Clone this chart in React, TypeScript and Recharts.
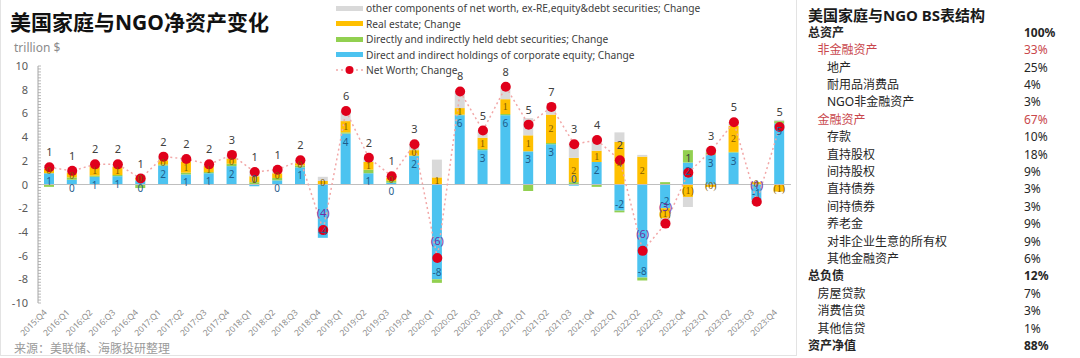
import React from 'react'
import { ComposedChart, Bar, Line, XAxis, YAxis, ReferenceLine, LabelList } from 'recharts'

// quarterly change, trillion $
const quarters = [
  '2015:Q4', '2016:Q1', '2016:Q2', '2016:Q3', '2016:Q4', '2017:Q1', '2017:Q2', '2017:Q3', '2017:Q4',
  '2018:Q1', '2018:Q2', '2018:Q3', '2018:Q4', '2019:Q1', '2019:Q2', '2019:Q3', '2019:Q4',
  '2020:Q1', '2020:Q2', '2020:Q3', '2020:Q4', '2021:Q1', '2021:Q2', '2021:Q3', '2021:Q4',
  '2022:Q1', '2022:Q2', '2022:Q3', '2022:Q4', '2023:Q1', '2023:Q2', '2023:Q3', '2023:Q4',
]
const equity = [
  0.95, 0.4, 0.65, 0.7, 0.35, 1.6, 0.85, 0.95, 1.55, -0.15, 0.35, 1.45, -4.5, 4.3, 0.95, 0.15, 2.4,
  -8.0, 5.85, 2.9, 5.85, 2.8, 3.4, -0.1, 1.9, -2.2, -7.85, -2.0, 1.85, 2.5, 2.7, -1.3, 5.15,
]
const debt = [
  -0.2, 0.2, 0.1, 0.1, -0.3, 0.1, 0.15, 0.1, 0.2, 0.2, 0.2, 0.15, 0.0, 0.1, 0.3, 0.15, 0.05,
  -0.3, 0.05, 0.1, 0.1, -0.55, 0.1, 0.2, -0.2, -0.15, -0.25, 0.2, 1.05, 0.2, 0.05, 0.05, 0.2,
]
const realEstate = [
  0.4, 0.4, 0.8, 0.7, 0.25, 0.35, 0.95, 0.5, 0.45, 0.5, 0.4, 0.2, 0.3, 0.95, 0.65, 0.3, 0.45,
  0.6, 0.55, 0.95, 1.25, 1.35, 2.4, 2.05, 0.95, 3.6, 2.35, -0.85, -1.05, -0.2, 2.2, 0.15, -0.6,
]
const other = [
  0.3, 0.15, 0.15, 0.2, 0.2, 0.3, 0.2, 0.15, 0.3, 0.5, 0.3, 0.25, 0.35, 0.85, 0.35, 0.1, 0.5,
  1.5, 1.4, 0.6, 1.05, 1.45, 0.65, 1.25, 1.1, 0.8, 0.15, -0.65, -0.85, 0.35, 0.3, -0.35, 0.1,
]
const netWorth = [
  1.45, 1.15, 1.7, 1.7, 0.5, 2.35, 2.15, 1.7, 2.5, 1.05, 1.25, 2.05, -3.85, 6.2, 2.25, 0.7, 3.4,
  -6.2, 7.85, 4.55, 8.25, 5.05, 6.55, 3.4, 3.75, 2.05, -5.6, -3.3, 1.0, 2.85, 5.25, -1.45, 4.85,
]
const majorTicks = [10, 8, 6, 4, 2, 0, -2, -4, -6, -8, -10]

const legendItems = [
  { label: 'other components of net worth, ex-RE,equity&debt securities; Change', color: '#d9d9d9' },
  { label: 'Real estate; Change', color: '#ffc000' },
  { label: 'Directly and indirectly held debt securities; Change', color: '#92d050' },
  { label: 'Direct and indirect holdings of corporate equity; Change', color: '#4cc3f0' },
]

// right-hand table: [label, value, indent level, style]
const tableRows: [string, string, number, string][] = [
  ['总资产', '100%', 0, 'bold'],
  ['非金融资产', '33%', 1, 'red'],
  ['地产', '25%', 2, ''],
  ['耐用品消费品', '4%', 2, ''],
  ['NGO非金融资产', '3%', 2, ''],
  ['金融资产', '67%', 1, 'red'],
  ['存款', '10%', 2, ''],
  ['直持股权', '18%', 2, ''],
  ['间持股权', '9%', 2, ''],
  ['直持债券', '3%', 2, ''],
  ['间持债券', '3%', 2, ''],
  ['养老金', '9%', 2, ''],
  ['对非企业生意的所有权', '9%', 2, ''],
  ['其他金融资产', '6%', 2, ''],
  ['总负债', '12%', 0, 'bold'],
  ['房屋贷款', '7%', 1, ''],
  ['消费信贷', '3%', 1, ''],
  ['其他信贷', '1%', 1, ''],
  ['资产净值', '88%', 0, 'bold'],
]

const FONT = '"Noto Sans", "Noto Sans CJK SC", sans-serif'
const AXIS_X = 38

const data = quarters.map((q, i) => ({
  q,
  eq: equity[i],
  debt: debt[i],
  re: realEstate[i],
  other: other[i],
  nw: netWorth[i],
}))

const minorTicks: number[] = []
for (let v = -10; v <= 10; v += 0.25) minorTicks.push(v)

const paren = (v: number) => (v < 0 ? `(${Math.round(-v)})` : String(Math.round(v)))

function YTick(props: any) {
  const { y, payload } = props
  const v = payload.value as number
  const major = majorTicks.includes(v)
  return (
    <g>
      <line x1={AXIS_X} x2={AXIS_X + 3} y1={y} y2={y} stroke="#a6a6a6" strokeWidth={0.8} />
      {major && (
        <text x={28} y={y + 4} textAnchor="end" fontSize={11} fill="#595959" fontFamily={FONT}>
          {v}
        </text>
      )}
    </g>
  )
}

function XTick(props: any) {
  const { x, y, payload } = props
  return (
    <g transform={`translate(${x - 2},${y + 10})`}>
      <text transform="rotate(-45)" textAnchor="end" fontSize={8.5} fill="#8c8c8c" fontFamily={FONT}>
        {payload.value}
      </text>
    </g>
  )
}

function NwLabel(props: any) {
  const { x, y, value } = props
  const neg = value < 0
  return (
    <text x={x} y={y - (neg ? 13 : 11)} textAnchor="middle" fontSize={11} fill={neg ? '#7030a0' : '#404040'} fontFamily={FONT}>
      {paren(value)}
    </text>
  )
}

// equity labels sit at the inside end of the blue segment
function EqLabel(props: any) {
  const { x, y, width, height, value } = props
  const top = Math.min(y, y + height)
  const bottom = Math.max(y, y + height)
  const ty = value >= 0 ? top + 12 : bottom - 3
  return (
    <text x={x + width / 2} y={ty} textAnchor="middle" fontSize={10} fill="#1f5d8c" fontFamily={FONT}>
      {String(Math.round(value) || 0)}
    </text>
  )
}

function Legend() {
  return (
    <div style={{ position: 'absolute', left: 336, top: 0, fontFamily: FONT, fontSize: 10.2, color: '#404040' }}>
      {legendItems.map((it, i) => (
        <div key={it.label} style={{ position: 'absolute', top: i * 15.5, height: 16, display: 'flex', alignItems: 'center', whiteSpace: 'nowrap' }}>
          <span style={{ display: 'inline-block', width: 27, height: 5, background: it.color, marginRight: 3 }} />
          {it.label}
        </div>
      ))}
      <div style={{ position: 'absolute', top: 62, height: 16, display: 'flex', alignItems: 'center', whiteSpace: 'nowrap' }}>
        <svg width={27} height={10} style={{ marginRight: 3 }}>
          <line x1={0} x2={27} y1={5} y2={5} stroke="#f2a7a7" strokeWidth={1.5} strokeDasharray="2 3" />
          <circle cx={13.5} cy={5} r={4} fill="#e0001b" />
        </svg>
        Net Worth; Change
      </div>
    </div>
  )
}

function Table() {
  return (
    <div style={{ position: 'absolute', left: 797, top: 0, width: 283, height: 358, fontFamily: FONT }}>
      <div style={{ position: 'absolute', left: 11, top: 4, fontSize: 15, fontWeight: 700, color: '#1a1a1a' }}>
        美国家庭与NGO BS表结构
      </div>
      {tableRows.map(([label, value, level, style], i) => {
        const color = style === 'red' ? '#c9474c' : '#262626'
        const weight = style === 'bold' ? 700 : 400
        const top = 32.7 + i * 17.4 - 9
        return (
          <React.Fragment key={label}>
            <div style={{ position: 'absolute', left: 11 + level * 9.5, top, lineHeight: '18px', fontSize: 12, color, fontWeight: weight }}>
              {label}
            </div>
            <div style={{ position: 'absolute', left: 227, top, lineHeight: '18px', fontSize: 12, color, fontWeight: weight }}>
              {value}
            </div>
          </React.Fragment>
        )
      })}
    </div>
  )
}

export default function App() {
  return (
    <div style={{ position: 'absolute', left: 0, top: 0, width: 1080, height: 358, background: '#fff', overflow: 'hidden' }}>
      <div style={{ position: 'absolute', left: 0, top: 0, width: 795, height: 355, borderLeft: '1px solid #e3e3e3', borderRight: '1px solid #e3e3e3', borderBottom: '1px solid #e3e3e3' }} />
      <div style={{ position: 'absolute', left: 10, top: 6, fontFamily: FONT, fontSize: 21, fontWeight: 700, color: '#111', whiteSpace: 'nowrap' }}>
        美国家庭与NGO净资产变化
      </div>
      <div style={{ position: 'absolute', left: 14, top: 39, fontFamily: FONT, fontSize: 12, color: '#8c8c8c' }}>trillion $</div>
      <div style={{ position: 'absolute', left: 14, top: 339, fontFamily: FONT, fontSize: 12, color: '#9a9a9a' }}>来源：美联储、海豚投研整理</div>
      <div style={{ position: 'absolute', left: 0, top: 0 }}>
        <ComposedChart
          width={797}
          height={358}
          data={data}
          stackOffset="sign"
          margin={{ top: 66, right: 6, bottom: 5, left: 0 }}
          barCategoryGap="55%"
        >
          <XAxis dataKey="q" axisLine={false} tickLine={false} tickSize={0} tickMargin={0} height={50} interval={0} tick={<XTick />} />
          <YAxis
            type="number"
            domain={[-10, 10]}
            ticks={minorTicks}
            interval={0}
            width={AXIS_X}
            axisLine={{ stroke: '#a6a6a6' }}
            tickLine={false}
            tick={<YTick />}
          />
          <ReferenceLine y={0} stroke="#bfbfbf" />
          <Bar dataKey="eq" stackId="a" fill="#4cc3f0" barSize={10} isAnimationActive={false}>
            <LabelList dataKey="eq" content={<EqLabel />} />
          </Bar>
          <Bar dataKey="debt" stackId="a" fill="#92d050" barSize={10} isAnimationActive={false} />
          <Bar dataKey="re" stackId="a" fill="#ffc000" barSize={10} isAnimationActive={false}>
            <LabelList dataKey="re" position="center" fontSize={10} fill="#7f5a00" formatter={(v: any) => paren(v)} />
          </Bar>
          <Bar dataKey="other" stackId="a" fill="#d9d9d9" barSize={10} isAnimationActive={false} />
          <Line
            dataKey="nw"
            stroke="#f2a7a7"
            strokeWidth={1.5}
            strokeDasharray="2 3"
            dot={{ r: 5, fill: '#e0001b', stroke: 'none' }}
            isAnimationActive={false}
          >
            <LabelList dataKey="nw" content={<NwLabel />} />
          </Line>
        </ComposedChart>
      </div>
      <Legend />
      <Table />
    </div>
  )
}
